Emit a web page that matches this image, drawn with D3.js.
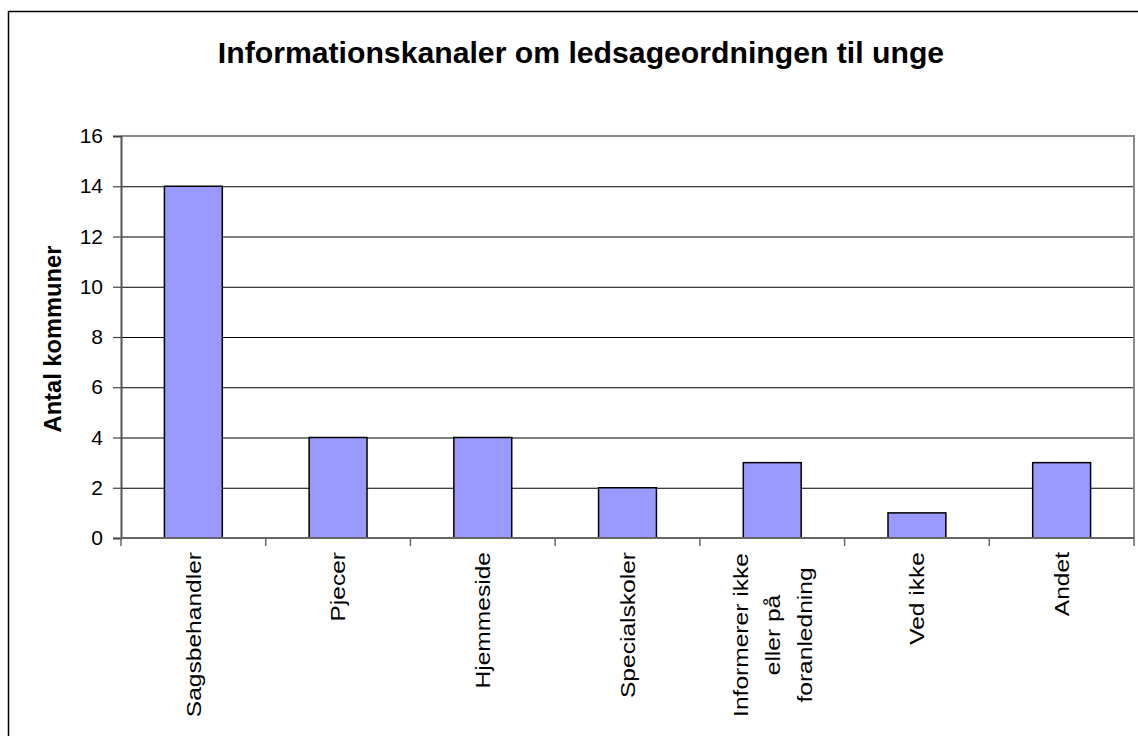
<!DOCTYPE html>
<html>
<head>
<meta charset="utf-8">
<script src="https://cdn.jsdelivr.net/npm/d3@7"></script>
<style>
  html, body { margin: 0; padding: 0; background: #fff; }
  svg { display: block; font-family: Arial, "Liberation Sans", sans-serif; }
</style>
</head>
<body>
<div id="chart"></div>
<script>
(function () {
    const categories = [
        ["Sagsbehandler"],
        ["Pjecer"],
        ["Hjemmeside"],
        ["Specialskoler"],
        ["Informerer ikke", "eller på", "foranledning"],
        ["Ved ikke"],
        ["Andet"]
    ];
    const values = [14, 4, 4, 2, 3, 1, 3];
    const yTicks = [0, 2, 4, 6, 8, 10, 12, 14, 16];

    const width = 1138;
    const height = 736;
    const plot = { left: 121, right: 1134, top: 136, bottom: 538 };

    const svg = d3.select("#chart")
        .append("svg")
        .attr("width", width)
        .attr("height", height);

    // outer frame (runs off the bottom and right of the picture)
    svg.append("rect")
        .attr("x", 8.5)
        .attr("y", 11.5)
        .attr("width", 1300)
        .attr("height", 900)
        .attr("fill", "#fff")
        .attr("stroke", "#000")
        .attr("stroke-width", 1.5);

    const x = d3.scaleBand()
        .domain(d3.range(categories.length))
        .range([plot.left, plot.right])
        .paddingInner(0.6)
        .paddingOuter(0.3);

    const y = d3.scaleLinear()
        .domain([0, 16])
        .range([plot.bottom, plot.top]);

    const step = (plot.right - plot.left) / categories.length;

    // gridlines
    svg.append("g")
        .selectAll("line")
        .data(yTicks.filter(d => d > 0 && d < 16))
        .join("line")
        .attr("x1", plot.left)
        .attr("x2", plot.right)
        .attr("y1", d => y(d) + 0.5)
        .attr("y2", d => y(d) + 0.5)
        .attr("stroke", "#000")
        .attr("stroke-width", 1);

    // plot border top / right
    svg.append("path")
        .attr("d", `M${plot.left},${y(16)}H${plot.right}V${plot.bottom}`)
        .attr("fill", "none")
        .attr("stroke", "#8a8a8a")
        .attr("stroke-width", 2);

    // bars
    svg.append("g")
        .selectAll("rect")
        .data(values)
        .join("rect")
        .attr("x", (d, i) => x(i))
        .attr("y", d => y(d))
        .attr("width", x.bandwidth())
        .attr("height", d => y(0) - y(d))
        .attr("fill", "#9999ff")
        .attr("stroke", "#000")
        .attr("stroke-width", 1.5);

    // y axis
    const yAxis = svg.append("g")
        .attr("transform", `translate(${plot.left},0)`)
        .call(d3.axisLeft(y).tickValues(yTicks).tickSize(8).tickPadding(10));
    yAxis.select(".domain").attr("stroke", "#555").attr("stroke-width", 2);
    yAxis.selectAll(".tick line").attr("stroke", "#444").attr("stroke-width", 1.2);
    yAxis.selectAll(".tick text")
        .attr("font-size", 21)
        .attr("fill", "#000")
        .style("font-family", "Arial, 'Liberation Sans', sans-serif");

    // x axis line and ticks at category boundaries
    svg.append("line")
        .attr("x1", plot.left)
        .attr("x2", plot.right)
        .attr("y1", plot.bottom)
        .attr("y2", plot.bottom)
        .attr("stroke", "#666")
        .attr("stroke-width", 2);

    svg.append("g")
        .selectAll("line")
        .data(d3.range(categories.length + 1))
        .join("line")
        .attr("x1", d => plot.left + d * step)
        .attr("x2", d => plot.left + d * step)
        .attr("y1", plot.bottom)
        .attr("y2", plot.bottom + 8)
        .attr("stroke", "#666")
        .attr("stroke-width", 1.5);

    // category labels, rotated; wrapped labels are centred on their block
    const stretch = 1.17;
    const lineHeight = 32;
    const labelGroups = svg.append("g")
        .selectAll("g")
        .data(categories)
        .join("g")
        .attr("transform", (d, i) =>
            `translate(${x(i) + x.bandwidth() / 2},552) rotate(-90) scale(${stretch},1)`);

    labelGroups.each(function (lines) {
        const g = d3.select(this);
        const multi = lines.length > 1;
        const offset = -(lines.length - 1) / 2 * lineHeight;
        lines.forEach((line, k) => {
            g.append("text")
                .attr("x", multi ? -83 / stretch : 0)
                .attr("y", offset + k * lineHeight)
                .attr("dy", "0.35em")
                .attr("text-anchor", multi ? "middle" : "end")
                .attr("font-size", 21)
                .attr("fill", "#000")
                .text(line);
        });
    });

    // y axis title
    svg.append("text")
        .attr("transform", "translate(61,339) rotate(-90)")
        .attr("text-anchor", "middle")
        .attr("font-size", 23.7)
        .attr("font-weight", "bold")
        .text("Antal kommuner");

    // chart title
    svg.append("text")
        .attr("x", 581)
        .attr("y", 63)
        .attr("text-anchor", "middle")
        .attr("font-size", 30.2)
        .attr("font-weight", "bold")
        .text("Informationskanaler om ledsageordningen til unge");
})();
</script>
</body>
</html>
